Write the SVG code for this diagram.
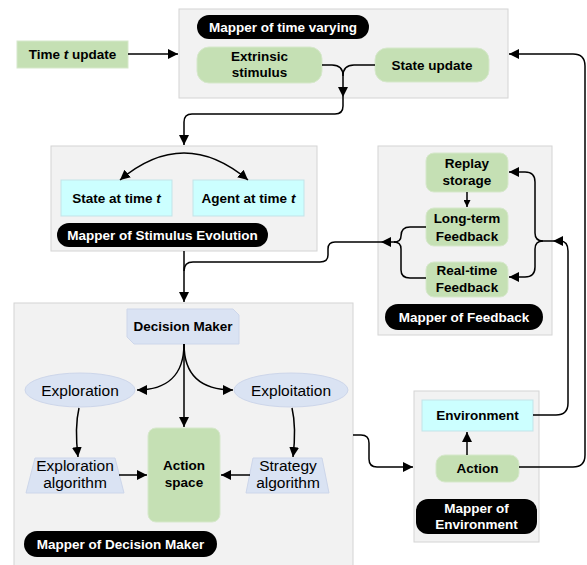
<svg xmlns="http://www.w3.org/2000/svg" width="587" height="565" viewBox="0 0 587 565">
<defs>
<marker id="ah" viewBox="0 0 10 10" refX="10" refY="5" markerWidth="7" markerHeight="7" markerUnits="userSpaceOnUse" orient="auto"><path d="M0,0 L10,5 L0,10 z" fill="#000"/></marker>
<marker id="ahb" viewBox="0 0 10 10" refX="10" refY="5" markerWidth="10" markerHeight="10" markerUnits="userSpaceOnUse" orient="auto-start-reverse"><path d="M0,0 L10,5 L0,10 z" fill="#000"/></marker>
<style>
.grp{fill:#f2f2f2;stroke:#d4d4d4;stroke-width:1}
.gr{fill:#c5e0b4;stroke:#d6e8cb;stroke-width:1}
.cy{fill:#ccffff;stroke:#c3e3e8;stroke-width:1}
.lv{fill:#dae3f3;stroke:#cdd6ea;stroke-width:1}
.pill{fill:#000}
text{font-family:"Liberation Sans",Arial,sans-serif;text-anchor:middle}
.b{font-weight:bold;font-size:13.5px;fill:#000}
.w{font-weight:bold;font-size:13.5px;fill:#fff}
.r{font-size:15.5px;fill:#000}
.c{fill:none;stroke:#000;stroke-width:1.5}
</style>
</defs>

<g id="time-update">
<rect x="17" y="41" width="111" height="27" class="gr"/>
<text x="72.5" y="59" class="b">Time <tspan font-style="italic">t</tspan> update</text>
</g>

<g id="mapper-time-varying">
<rect x="179" y="9" width="329" height="89" class="grp"/>
<rect x="197" y="15" width="172" height="24" rx="12" class="pill"/>
<text x="283" y="31.5" class="w">Mapper of time varying</text>
</g>
<g id="extrinsic-stimulus">
<rect x="197" y="47" width="125" height="36" rx="12" class="gr"/>
<text x="259.5" y="61" class="b">Extrinsic</text>
<text x="259.5" y="77" class="b">stimulus</text>
</g>
<g id="state-update">
<rect x="375" y="48" width="114" height="34" rx="12" class="gr"/>
<text x="432" y="70" class="b">State update</text>
</g>

<g id="mapper-stimulus-evolution">
<rect x="51" y="146" width="266" height="105" class="grp"/>
<rect x="57" y="223" width="211" height="24" rx="12" class="pill"/>
<text x="162.5" y="239.5" class="w">Mapper of Stimulus Evolution</text>
</g>
<g id="state-at-time">
<rect x="61" y="180" width="111" height="36" class="cy"/>
<text x="116.5" y="202.5" class="b">State at time <tspan font-style="italic">t</tspan></text>
</g>
<g id="agent-at-time">
<rect x="193" y="180" width="111" height="36" class="cy"/>
<text x="248.5" y="202.5" class="b">Agent at time <tspan font-style="italic">t</tspan></text>
</g>

<g id="mapper-feedback">
<rect x="378" y="146" width="174" height="189" class="grp"/>
<rect x="385" y="304" width="158" height="26" rx="13" class="pill"/>
<text x="464" y="321.5" class="w">Mapper of Feedback</text>
</g>
<g id="replay-storage">
<rect x="426" y="153" width="82" height="39" rx="8" class="gr"/>
<text x="467" y="168" class="b">Replay</text>
<text x="467" y="185" class="b">storage</text>
</g>
<g id="long-term-feedback">
<rect x="426" y="208" width="82" height="38" rx="8" class="gr"/>
<text x="467" y="223" class="b">Long-term</text>
<text x="467" y="241" class="b">Feedback</text>
</g>
<g id="real-time-feedback">
<rect x="426" y="262" width="82" height="35" rx="8" class="gr"/>
<text x="467" y="275" class="b">Real-time</text>
<text x="467" y="292" class="b">Feedback</text>
</g>

<g id="mapper-decision-maker">
<rect x="14" y="303" width="339" height="270" class="grp"/>
<rect x="24" y="531" width="193" height="26" rx="13" class="pill"/>
<text x="120.5" y="548.5" class="w">Mapper of Decision Maker</text>
</g>
<g id="decision-maker">
<polygon points="127,309 233,309 239,315 239,344 134,344 127,337" class="lv"/>
<text x="183" y="331" class="b">Decision Maker</text>
</g>
<g id="exploration">
<ellipse cx="80" cy="390" rx="55" ry="17" class="lv"/>
<text x="80" y="395.5" class="r">Exploration</text>
</g>
<g id="exploitation">
<ellipse cx="291" cy="390" rx="57" ry="17" class="lv"/>
<text x="291" y="395.5" class="r">Exploitation</text>
</g>
<g id="exploration-algorithm">
<polygon points="35,458 115,458 124,493 26,493" class="lv"/>
<text x="75" y="471" class="r">Exploration</text>
<text x="75" y="488" class="r">algorithm</text>
</g>
<g id="strategy-algorithm">
<polygon points="253,458 322,458 329,493 246,493" class="lv"/>
<text x="288" y="471" class="r">Strategy</text>
<text x="288" y="488" class="r">algorithm</text>
</g>
<g id="action-space">
<rect x="148" y="428" width="72" height="94" rx="8" class="gr"/>
<text x="184" y="470" class="b">Action</text>
<text x="184" y="487" class="b">space</text>
</g>

<g id="mapper-environment">
<rect x="414" y="391" width="125" height="151" class="grp"/>
<rect x="416" y="499" width="121" height="35" rx="12" class="pill"/>
<text x="476.5" y="513" class="w">Mapper of</text>
<text x="476.5" y="529" class="w">Environment</text>
</g>
<g id="environment">
<rect x="422" y="400" width="111" height="31" class="cy"/>
<text x="477.5" y="420" class="b">Environment</text>
</g>
<g id="action">
<rect x="436" y="455" width="83" height="27" rx="9" class="gr"/>
<text x="477.5" y="473" class="b">Action</text>
</g>

<g id="connectors">
<path class="c" d="M128,54 H178" marker-end="url(#ahb)"/>
<path class="c" d="M322,65 H332 Q343,65 343,76 V97" marker-end="url(#ahb)"/>
<path class="c" d="M375,65 H354 Q343,65 343,76"/>
<path class="c" d="M343,97 V106 Q343,114 335,114 H192 Q184,114 184,122 V145" marker-end="url(#ahb)"/>
<path class="c" d="M120,180 Q184,126 248,180" marker-start="url(#ahb)" marker-end="url(#ahb)"/>
<path class="c" d="M184,251 V302" marker-end="url(#ahb)"/>
<path class="c" d="M426,227 H410 Q401,227 401,236 Q401,242 394,242"/>
<path class="c" d="M426,278 H410 Q401,278 401,270 V249 Q401,242 394,242"/>
<path class="c" d="M395,242 H381" marker-end="url(#ahb)"/>
<path class="c" d="M381,242 H335 Q328,242 328,249 V255 Q328,262 320,262 H193 Q184,262 184,271"/>
<path class="c" d="M467,192 V207" marker-end="url(#ah)"/>
<path class="c" d="M553,241 H543 Q535,241 535,233 V182 Q535,172 525,172 H509" marker-end="url(#ahb)"/>
<path class="c" d="M543,241 Q535,241 535,249 V267 Q535,277 525,277 H509" marker-end="url(#ahb)"/>
<path class="c" d="M533,415 H556 Q568,415 568,403 V251 Q568,241 560,241 H553" marker-end="url(#ahb)"/>
<path class="c" d="M519,467 H573 Q585,467 585,455 V66 Q585,54 573,54 H509" marker-end="url(#ahb)"/>
<path class="c" d="M353,435 H361 Q369,435 369,443 V459 Q369,467 377,467 H413" marker-end="url(#ahb)"/>
<path class="c" d="M467,455 V432" marker-end="url(#ahb)"/>
<path class="c" d="M184,344 V427" marker-end="url(#ahb)"/>
<path class="c" d="M184,344 C184,376 166,390 137,390" marker-end="url(#ahb)"/>
<path class="c" d="M184,344 C184,376 202,390 233,390" marker-end="url(#ahb)"/>
<path class="c" d="M79,408 C75,425 76,440 78,457" marker-end="url(#ahb)"/>
<path class="c" d="M292,408 C296,425 295,440 293,457" marker-end="url(#ahb)"/>
<path class="c" d="M119,475 H147" marker-end="url(#ahb)"/>
<path class="c" d="M250,475 H221" marker-end="url(#ahb)"/>
</g>
</svg>
